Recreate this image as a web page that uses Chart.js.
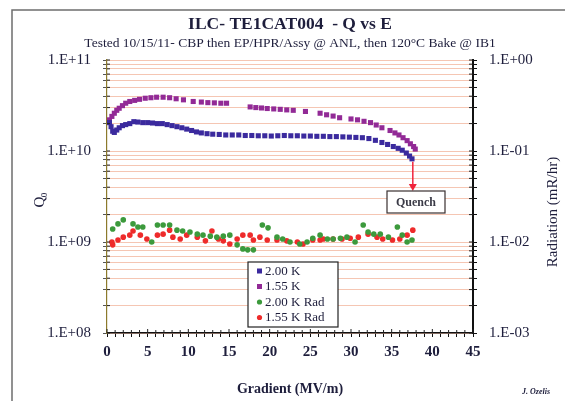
<!DOCTYPE html>
<html>
<head>
<meta charset="utf-8">
<script src="https://cdn.jsdelivr.net/npm/chart.js@4.4.0/dist/chart.umd.min.js"></script>
<style>
  html, body { margin: 0; padding: 0; background: #fff; }
  #wrap { width: 565px; height: 401px; }
</style>
</head>
<body>
<div id="wrap"><canvas id="c"></canvas></div>
<script>
// Q0 vs gradient, 2.00 K
const e200 = [0.3, 0.5, 0.7, 0.9, 1.2, 1.5, 1.9, 2.3, 2.8, 3.3, 3.8, 4.4, 5.0, 5.6, 6.2, 6.8, 7.4, 8.0, 8.6, 9.2, 9.8, 10.4, 11.0, 11.6, 12.3, 13.0, 13.8, 14.6, 15.4, 16.2, 17.0, 17.8, 18.6, 19.4, 20.2, 21.0, 21.8, 22.6, 23.4, 24.2, 25.0, 25.8, 26.6, 27.4, 28.2, 29.0, 29.8, 30.6, 31.4, 32.2, 33.0, 33.8, 34.5, 35.2, 35.8, 36.3, 36.8, 37.2, 37.5];
const q200 = [2.05e10, 1.85e10, 1.65e10, 1.6e10, 1.7e10, 1.8e10, 1.9e10, 1.95e10, 2.0e10, 2.1e10, 2.08e10, 2.05e10, 2.05e10, 2.03e10, 2.0e10, 2.0e10, 1.95e10, 1.9e10, 1.85e10, 1.8e10, 1.74e10, 1.68e10, 1.62e10, 1.58e10, 1.55e10, 1.53e10, 1.52e10, 1.5e10, 1.5e10, 1.5e10, 1.48e10, 1.48e10, 1.47e10, 1.47e10, 1.46e10, 1.47e10, 1.48e10, 1.47e10, 1.47e10, 1.46e10, 1.46e10, 1.45e10, 1.45e10, 1.44e10, 1.44e10, 1.43e10, 1.42e10, 1.41e10, 1.4e10, 1.37e10, 1.31e10, 1.24e10, 1.18e10, 1.12e10, 1.07e10, 1.02e10, 0.95e10, 0.88e10, 0.82e10];

// Q0 vs gradient, 1.55 K
const e155 = [0.3, 0.6, 0.9, 1.2, 1.5, 1.9, 2.3, 2.8, 3.4, 4.0, 4.7, 5.4, 6.1, 6.9, 7.7, 8.5, 9.4, 10.6, 11.6, 12.4, 13.2, 14.0, 14.7, 17.6, 18.3, 19.0, 19.7, 20.5, 21.3, 22.1, 22.9, 24.4, 26.2, 27.0, 27.8, 28.6, 30.0, 30.8, 31.6, 32.4, 33.1, 33.8, 34.8, 35.4, 35.9, 36.4, 36.9, 37.3, 37.7, 37.9];
const q155 = [2.2e10, 2.4e10, 2.6e10, 2.8e10, 2.95e10, 3.15e10, 3.35e10, 3.5e10, 3.6e10, 3.7e10, 3.8e10, 3.85e10, 3.9e10, 3.9e10, 3.85e10, 3.75e10, 3.65e10, 3.5e10, 3.45e10, 3.4e10, 3.38e10, 3.35e10, 3.35e10, 3.05e10, 3.0e10, 2.97e10, 2.93e10, 2.9e10, 2.87e10, 2.83e10, 2.8e10, 2.72e10, 2.6e10, 2.5e10, 2.42e10, 2.32e10, 2.25e10, 2.2e10, 2.12e10, 2.05e10, 1.93e10, 1.8e10, 1.68e10, 1.58e10, 1.5e10, 1.4e10, 1.3e10, 1.2e10, 1.12e10, 1.05e10];

// radiation (mR/hr), 2.00 K
const eRad200 = [0.7, 1.35, 2.0, 3.2, 3.8, 4.4, 5.5, 6.2, 6.9, 7.7, 8.6, 9.3, 10.2, 11.1, 11.8, 12.7, 13.5, 14.3, 15.1, 16.0, 16.7, 17.3, 18.0, 19.1, 19.8, 20.9, 21.6, 22.5, 23.7, 24.6, 25.3, 26.2, 27.1, 27.8, 28.7, 29.5, 30.5, 31.5, 32.1, 32.8, 33.6, 34.6, 35.7, 36.3, 36.9, 37.5];
const rad200 = [0.0139, 0.0158, 0.0175, 0.0158, 0.0146, 0.0146, 0.0100, 0.0154, 0.0154, 0.0154, 0.0135, 0.0132, 0.0129, 0.0122, 0.0119, 0.0116, 0.0113, 0.0116, 0.0119, 0.0093, 0.0084, 0.0082, 0.0082, 0.0154, 0.0143, 0.0113, 0.0108, 0.0100, 0.0095, 0.0100, 0.0110, 0.0119, 0.0108, 0.0108, 0.0110, 0.0113, 0.0100, 0.0154, 0.0129, 0.0122, 0.0122, 0.0113, 0.0146, 0.0119, 0.0100, 0.0105];

// radiation (mR/hr), 1.55 K
const eRad155 = [0.6, 0.7, 1.35, 2.0, 2.8, 3.2, 4.1, 4.9, 6.2, 6.9, 7.7, 8.1, 9.0, 9.8, 11.1, 12.1, 12.9, 13.7, 14.3, 15.1, 16.0, 16.7, 17.6, 18.0, 18.8, 19.7, 20.9, 22.1, 23.4, 24.1, 25.3, 26.2, 26.6, 27.8, 28.9, 29.9, 30.9, 32.1, 33.2, 33.9, 35.1, 36.0, 36.9, 37.6];
const rad155 = [0.0100, 0.0093, 0.0105, 0.0113, 0.0119, 0.0132, 0.0119, 0.0108, 0.0119, 0.0122, 0.0135, 0.0113, 0.0108, 0.0119, 0.0113, 0.0103, 0.0132, 0.0108, 0.0103, 0.0095, 0.0108, 0.0119, 0.0119, 0.0105, 0.0113, 0.0105, 0.0105, 0.0103, 0.0100, 0.0095, 0.0105, 0.0105, 0.0108, 0.0108, 0.0108, 0.0110, 0.0113, 0.0122, 0.0113, 0.0108, 0.0105, 0.0108, 0.0119, 0.0135];

const seriesNames = ["2.00 K", "1.55 K", "2.00 K Rad", "1.55 K Rad"];
const seriesColors = ["#3b2a9e", "#922a96", "#3c9a3c", "#ee2b2b"];
const qTicks = ["1.E+08", "1.E+09", "1.E+10", "1.E+11"];
const radTicks = ["1.E-03", "1.E-02", "1.E-01", "1.E+00"];
const quenchE = 37.6;

const SERIF = "'Liberation Serif', 'DejaVu Serif', serif";
const INK = "#1e1e3c";

function pts(xs, ys) {
  return xs.map((x, i) => ({ x: x, y: ys[i] }));
}

function logTicks(lo, hi) {
  const t = [];
  for (let k = lo; k < hi; k++) {
    for (let m = 1; m <= 9; m++) t.push({ value: m * Math.pow(10, k) });
  }
  t.push({ value: Math.pow(10, hi) });
  return t;
}

function decadeLabel(v, labels, lo) {
  const lg = Math.log10(v);
  const r = Math.round(lg);
  if (Math.abs(lg - r) > 1e-6) return "";
  return labels[r - lo];
}

// short tick marks pointing into the plot, like the original sheet
function innerTicks(ctx, c) {
  const a = c.chartArea;
  ctx.strokeStyle = "#222";
  ctx.lineWidth = 1;
  ctx.beginPath();
  c.scales.x.ticks.forEach(t => {
    const px = c.scales.x.getPixelForValue(t.value);
    ctx.moveTo(px, a.bottom);
    ctx.lineTo(px, a.bottom - (t.value % 5 === 0 ? 4 : 3));
  });
  c.scales.y.ticks.forEach(t => {
    const py = c.scales.y.getPixelForValue(t.value);
    ctx.moveTo(a.left, py);
    ctx.lineTo(a.left + 3, py);
  });
  c.scales.y2.ticks.forEach(t => {
    const py = c.scales.y2.getPixelForValue(t.value);
    ctx.moveTo(a.right, py);
    ctx.lineTo(a.right - 4, py);
  });
  ctx.stroke();
}

const decor = {
  id: "decor",
  afterDraw(c) {
    const ctx = c.ctx;
    const xs = c.scales.x, ys = c.scales.y;
    const area = c.chartArea;
    ctx.save();

    innerTicks(ctx, c);

    // frame
    ctx.strokeStyle = "#6e6e6e";
    ctx.lineWidth = 1.5;
    ctx.beginPath();
    ctx.moveTo(12, 401);
    ctx.lineTo(12, 10);
    ctx.lineTo(565, 10);
    ctx.stroke();

    // titles
    ctx.fillStyle = INK;
    ctx.textAlign = "center";
    ctx.textBaseline = "middle";
    ctx.font = "bold 17.5px " + SERIF;
    ctx.fillText("ILC- TE1CAT004  - Q vs E", 290, 24);
    ctx.font = "13.5px " + SERIF;
    ctx.fillText("Tested 10/15/11- CBP then EP/HPR/Assy @ ANL, then 120\u00B0C Bake @ IB1", 290, 43);

    ctx.font = "bold 14px " + SERIF;
    ctx.fillText("Gradient (MV/m)", (area.left + area.right) / 2, 389);

    ctx.font = "italic bold 8px " + SERIF;
    ctx.fillText("J. Ozelis", 536, 392);

    // Q0 (rotated)
    ctx.save();
    ctx.translate(40, 200);
    ctx.rotate(-Math.PI / 2);
    ctx.font = "15px " + SERIF;
    ctx.textAlign = "center";
    ctx.fillText("Q", -2, 0);
    ctx.font = "9px " + SERIF;
    ctx.fillText("0", 5, 5);
    ctx.restore();

    // Radiation (rotated)
    ctx.save();
    ctx.translate(553, 212);
    ctx.rotate(-Math.PI / 2);
    ctx.font = "15px " + SERIF;
    ctx.fillText("Radiation (mR/hr)", 0, 0);
    ctx.restore();

    // quench arrow + box
    const last = q200[q200.length - 1];
    const ax = xs.getPixelForValue(quenchE);
    const ay = ys.getPixelForValue(last) + 3;
    const by = 191;
    ctx.strokeStyle = "#f0243c";
    ctx.fillStyle = "#f0243c";
    ctx.lineWidth = 1.5;
    ctx.beginPath();
    ctx.moveTo(ax, ay);
    ctx.lineTo(ax, by - 5);
    ctx.stroke();
    ctx.beginPath();
    ctx.moveTo(ax - 4, by - 7);
    ctx.lineTo(ax + 4, by - 7);
    ctx.lineTo(ax, by);
    ctx.closePath();
    ctx.fill();

    ctx.fillStyle = "#fff";
    ctx.fillRect(387, 191, 58, 22);
    ctx.strokeStyle = "#3a3030";
    ctx.lineWidth = 1.2;
    ctx.strokeRect(387, 191, 58, 22);
    ctx.fillStyle = "#3a3a46";
    ctx.font = "bold 12px " + SERIF;
    ctx.textAlign = "center";
    ctx.fillText("Quench", 416, 202.5);

    // legend
    const lx = 248, ly = 262, lw = 90, lh = 65;
    ctx.fillStyle = "#fff";
    ctx.fillRect(lx, ly, lw, lh);
    ctx.strokeStyle = "#222";
    ctx.lineWidth = 1.2;
    ctx.strokeRect(lx, ly, lw, lh);
    ctx.font = "13px " + SERIF;
    ctx.textAlign = "left";
    seriesNames.forEach((name, i) => {
      const yy = ly + 9 + i * 15.5;
      ctx.fillStyle = seriesColors[i];
      if (i < 2) {
        ctx.fillRect(lx + 9, yy - 2.5, 5, 5);
      } else {
        ctx.beginPath();
        ctx.arc(lx + 11.5, yy, 2.6, 0, Math.PI * 2);
        ctx.fill();
      }
      ctx.fillStyle = INK;
      ctx.fillText(name, lx + 17, yy + 0.5);
    });

    ctx.restore();
  }
};

new Chart(document.getElementById("c"), {
  type: "scatter",
  data: {
    datasets: [
      { label: seriesNames[0], data: pts(e200, q200), yAxisID: "y", pointStyle: "rect", radius: 3.6, backgroundColor: seriesColors[0], borderWidth: 0 },
      { label: seriesNames[1], data: pts(e155, q155), yAxisID: "y", pointStyle: "rect", radius: 3.6, backgroundColor: seriesColors[1], borderWidth: 0 },
      { label: seriesNames[2], data: pts(eRad200, rad200), yAxisID: "y2", pointStyle: "circle", radius: 2.8, backgroundColor: seriesColors[2], borderWidth: 0 },
      { label: seriesNames[3], data: pts(eRad155, rad155), yAxisID: "y2", pointStyle: "circle", radius: 2.8, backgroundColor: seriesColors[3], borderWidth: 0 }
    ]
  },
  options: {
    responsive: true,
    maintainAspectRatio: false,
    animation: false,
    layout: { padding: { top: 60, left: 0, right: 0, bottom: 0 } },
    plugins: { legend: { display: false }, tooltip: { enabled: false } },
    scales: {
      x: {
        type: "linear",
        min: 0,
        max: 45,
        afterBuildTicks: s => { s.ticks = Array.from({ length: 46 }, (_, i) => ({ value: i })); },
        afterFit: s => { s.height = 68; },
        ticks: {
          autoSkip: false,
          maxRotation: 0,
          padding: 6,
          color: INK,
          font: { family: SERIF, size: 15, weight: "bold" },
          callback: v => (v % 5 === 0 ? String(v) : "")
        },
        grid: { drawOnChartArea: false, tickLength: 4, color: "#111" },
        border: { color: "#111", width: 1.5 }
      },
      y: {
        type: "logarithmic",
        position: "left",
        min: 1e8,
        max: 1e11,
        afterBuildTicks: s => { s.ticks = logTicks(8, 11); },
        afterFit: s => { s.width = 107; },
        ticks: {
          autoSkip: false,
          padding: 12,
          color: INK,
          font: { family: SERIF, size: 15 },
          callback: v => decadeLabel(v, qTicks, 8)
        },
        grid: {
          color: "rgba(238,160,128,0.6)",
          tickColor: "#555",
          tickLength: 4,
          lineWidth: 1
        },
        border: { color: "#8c7a2c", width: 1.2 }
      },
      y2: {
        type: "logarithmic",
        position: "right",
        min: 1e-3,
        max: 1,
        afterBuildTicks: s => { s.ticks = logTicks(-3, 0); },
        afterFit: s => { s.width = 92; },
        ticks: {
          autoSkip: false,
          padding: 12,
          color: INK,
          font: { family: SERIF, size: 15 },
          callback: v => decadeLabel(v, radTicks, -3)
        },
        grid: { drawOnChartArea: false, tickLength: 4, color: "#111" },
        border: { color: "#111", width: 2 }
      }
    }
  },
  plugins: [decor]
});
</script>
</body>
</html>
